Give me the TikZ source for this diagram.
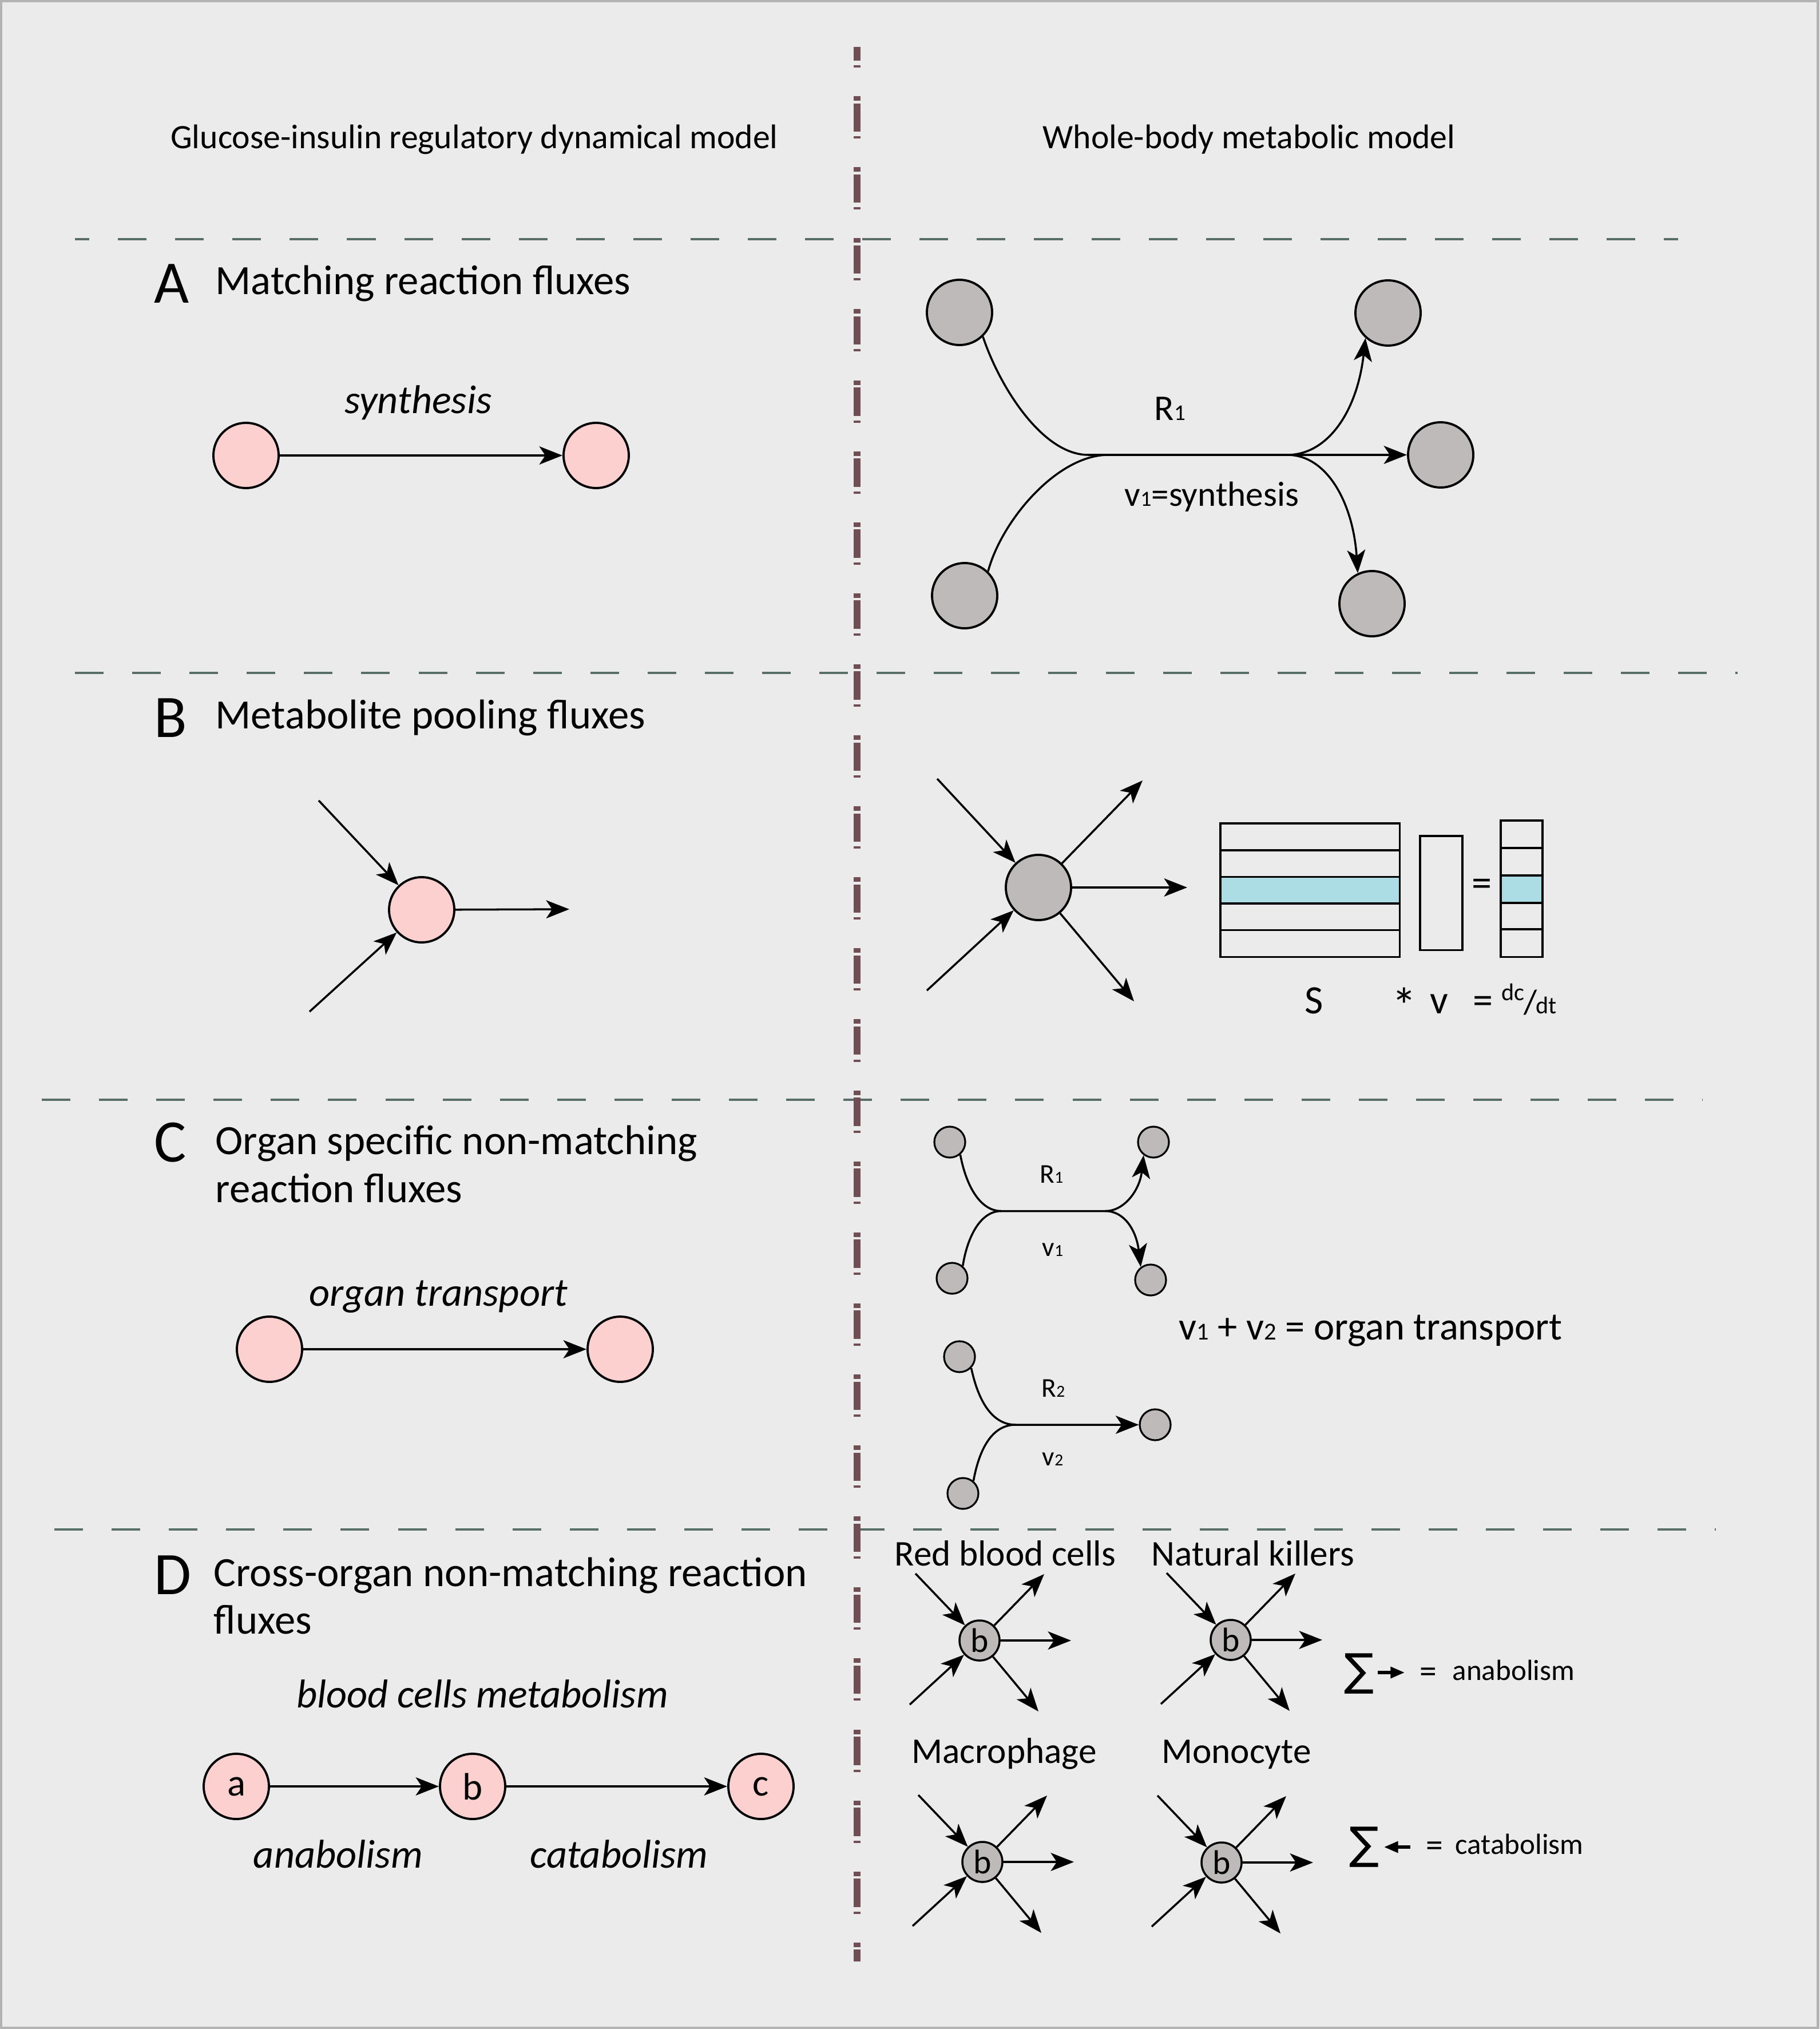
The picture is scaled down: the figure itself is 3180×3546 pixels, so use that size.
\documentclass[tikz,border=0pt]{standalone}
\usepackage{fontspec}
\setmainfont{Carlito}
\newfontfamily\sumfont{DejaVu Sans}
\usepackage{graphicx}
\usetikzlibrary{
  arrows.meta,
  calc,
}
\definecolor{bgcol}{RGB}{235,235,235}
\definecolor{framecol}{RGB}{179,179,179}
\definecolor{pinkfill}{RGB}{252,208,207}
\definecolor{greyfill}{RGB}{189,186,185}
\definecolor{rowcyan}{RGB}{172,221,228}
\definecolor{sepcol}{RGB}{90,110,104}
\definecolor{midcol}{RGB}{111,79,83}
\newcommand\fs[1]{\fontsize{#1}{#1}\selectfont}
\newcommand\lo[1]{\scalebox{0.62}{#1}}

\begin{document}
\begin{tikzpicture}[
  x=0.01cm, y=-0.01cm,
  met/.style={circle, draw, line width=1.1pt, fill=pinkfill, minimum size=1.14cm, inner sep=0pt, font=\fs{19pt}},
  gmet/.style={met, fill=greyfill},
  smet/.style={gmet, minimum size=0.54cm, line width=0.9pt},
  bmet/.style={gmet, minimum size=0.70cm, line width=1pt, font=\fs{17pt}},
  rxn/.style={line width=1pt},
  flux/.style={rxn, -{Stealth[length=11.5pt, width=9pt, inset=3pt]}},
  tiny/.style={line width=1.5pt, -{Triangle[length=7pt, width=5.5pt]}},
  divider/.style={sepcol, line width=1.15pt, dash pattern=on 14.23pt off 14.23pt},
  cell/.style={line width=1pt},
  head/.style={font=\fs{17pt}, anchor=base, inner sep=0pt},
  panel/.style={font=\fs{30pt}, anchor=base west, inner sep=0pt},
  title/.style={font=\fs{20.7pt}, anchor=base west, inner sep=0pt},
  flx/.style={font=\itshape\fs{20pt}, anchor=base, inner sep=0pt},
  lbl/.style={font=\fs{18pt}, anchor=base, inner sep=0pt},
  slbl/.style={font=\fs{13.5pt}, anchor=base, inner sep=0pt},
]
\useasboundingbox (0,0) rectangle (3180,3546);
\fill[framecol] (0,0) rectangle (3180,3546);
\fill[bgcol] (4,4) rectangle (3175,3542);

\node[head] (lhead) at (829,260) {Glucose-insulin regulatory dynamical model};
\node[head] (rhead) at (2183,260) {Whole-body metabolic model};

\draw[divider, dash phase=7.1pt] (131,418) -- (2933,418);
\draw[divider] (131,1176) -- (3037,1176);
\draw[divider] (73,1922) -- (2976,1922);
\draw[divider] (95,2673) -- (2999,2673);
\draw[midcol, line width=3.4pt,
  dash pattern=on 2.28pt off 1.28pt on 14.08pt off 2.28pt on 1.14pt off 14.23pt,
  dash phase=10.8pt] (1498,82) -- (1498,3428);

% A
\node[panel] (A) at (269,530) {A};
\node[title] (Atitle) at (376,515) {Matching reaction fluxes};
\node[met] (A1) at (430,796) {};
\node[met] (A2) at (1042,796) {};
\draw[flux] (A1) -- (A2);
\node[flx] (Asyn) at (731,722) {synthesis};

\node[gmet] (Atl) at (1677,546) {};
\node[gmet] (Abl) at (1686,1041) {};
\node[gmet] (Atr) at (2426,547) {};
\node[gmet] (Amr) at (2518,795) {};
\node[gmet] (Abr) at (2398,1055) {};
\coordinate (Aj1) at (1902,795);
\coordinate (Aj2) at (1937,795);
\coordinate (Aj3) at (2250,795);
\draw[rxn] (Atl.-46) .. controls (1747,676) and (1822,795) .. (Aj1) -- (Aj3);
\draw[rxn] (Abl.46) .. controls (1750,911) and (1847,795) .. (Aj2);
\draw[flux] (Aj3) .. controls (2320,795) and (2372,720) .. (Atr.-132);
\draw[flux] (Aj3) -- (Amr);
\draw[flux] (Aj3) .. controls (2320,795) and (2365,880) .. (Abr.115);
\node[lbl] (AR) at (2045,735) {R\lo{1}};
\node[lbl, font=\fs{17.4pt}] (Av) at (2118,884) {v\lo{1}=synthesis};

% B
\node[panel] (B) at (269,1288) {B};
\node[title] (Btitle) at (376,1273) {Metabolite pooling fluxes};
\node[met] (B1) at (737,1590) {};
\coordinate (Bin1) at (557,1399);
\coordinate (Bin2) at (541,1768);
\coordinate (Bout) at (995,1589);
\draw[flux] (Bin1) -- (B1);
\draw[flux] (Bin2) -- (B1);
\draw[flux] (B1) -- (Bout);

\node[gmet] (B2) at (1815,1551) {};
\coordinate (Bin3) at (1638,1361);
\coordinate (Bin4) at (1620,1731);
\coordinate (Bout1) at (1997,1364);
\coordinate (Bout2) at (2075,1551);
\coordinate (Bout3) at (1982,1750);
\draw[flux] (Bin3) -- (B2);
\draw[flux] (Bin4) -- (B2);
\draw[flux] (B2) -- (Bout1);
\draw[flux] (B2) -- (Bout2);
\draw[flux] (B2) -- (Bout3);

\fill[rowcyan] (2133,1532.5) rectangle (2446.5,1579);
\draw[cell] (2133,1439) rectangle (2446.5,1672.5);
\foreach \r in {1486,1532.5,1579,1625.5}
  \draw[cell] (2133,\r) -- (2446.5,\r);
\draw[cell] (2482,1461) rectangle (2556,1660.6);
\fill[rowcyan] (2623,1530) rectangle (2696,1578);
\draw[cell] (2623,1434) rectangle (2696,1672.5);
\foreach \r in {1482,1530,1578,1624}
  \draw[cell] (2623,\r) -- (2696,\r);
\node[font=\fs{20pt}, inner sep=0pt] (Beq) at (2590,1551) {=};
\node[lbl, font=\fs{20pt}] (BS) at (2297,1771) {S};
\node[lbl, font=\fs{25pt}] (Bstar) at (2454,1788) {*};
\node[lbl, font=\fs{20pt}] (Bv) at (2515,1771) {v};
\node[lbl, font=\fs{20pt}] (Beq2) at (2592,1771) {=};
\node[lbl, font=\fs{17pt}, anchor=base west] (Bdcdt) at (2624,1771)
  {\raisebox{6.5pt}{\fs{12pt}dc}\kern-0.5pt/\kern-0.5pt{\fs{12pt}dt}};

% C
\node[panel] (C) at (269,2030) {C};
\node[title] (Ctitle1) at (376,2017) {Organ specific non-matching};
\node[title] (Ctitle2) at (376,2101) {reaction fluxes};
\node[met] (C1) at (471,2358) {};
\node[met] (C2) at (1084,2358) {};
\draw[flux] (C1) -- (C2);
\node[flx] (Ctr) at (766,2282) {organ transport};

\node[smet] (C1tl) at (1660,1996) {};
\node[smet] (C1bl) at (1664,2234) {};
\node[smet] (C1tr) at (2016,1996) {};
\node[smet] (C1br) at (2011,2237) {};
\coordinate (C1j1) at (1750,2116.5);
\coordinate (C1j2) at (1932,2116.5);
\draw[rxn] (C1tl.-50) .. controls (1688,2070) and (1712,2116.5) .. (C1j1) -- (C1j2);
\draw[rxn] (C1bl.49) .. controls (1690,2165) and (1712,2116.5) .. (C1j1);
\draw[flux] (C1j2) .. controls (1965,2116.5) and (1992,2080) .. (C1tr.-127);
\draw[flux] (C1j2) .. controls (1965,2116.5) and (1986,2150) .. (C1br.127);
\node[slbl] (CR1) at (1838,2067) {R\lo{1}};
\node[slbl] (Cv1) at (1840,2195) {v\lo{1}};

\node[smet] (C2tl) at (1677,2371) {};
\node[smet] (C2bl) at (1683,2610) {};
\node[smet] (C2r) at (2019,2490) {};
\coordinate (C2j) at (1775,2490);
\draw[flux] (C2tl.-44) .. controls (1710,2450) and (1735,2490) .. (C2j) -- (C2r);
\draw[rxn] (C2bl.50) .. controls (1712,2530) and (1735,2490) .. (C2j);
\node[slbl] (CR2) at (1841,2441) {R\lo{2}};
\node[slbl] (Cv2) at (1840,2561) {v\lo{2}};
\node[lbl, font=\fs{19.5pt}, anchor=base west] (Csum) at (2060,2341)
  {v\lo{1} + v\lo{2} = organ transport};

% D
\node[panel] (D) at (269,2786) {D};
\node[title] (Dtitle1) at (373,2772) {Cross-organ non-matching reaction};
\node[title] (Dtitle2) at (373,2855) {fluxes};
\node[flx] (Dmet) at (843,2984) {blood cells metabolism};
\node[met] (Da) at (413,3122) {a};
\node[met] (Db) at (826,3122) {b};
\node[met] (Dc) at (1330,3122) {c};
\draw[flux] (Da) -- (Db);
\draw[flux] (Db) -- (Dc);
\node[flx] (Dana) at (591,3264) {anabolism};
\node[flx] (Dcat) at (1082,3264) {catabolism};

\foreach \nm/\x/\y/\lx/\ly/\txt in {
  rbc/1712/2867/1757/2736/Red blood cells,
  nk/2151/2866/2190/2736/Natural killers,
  mph/1717/3254/1755/3081/Macrophage,
  mono/2135/3255/2161/3081/Monocyte}
{
  \node[bmet] (\nm) at (\x,\y) {b};
  \node[lbl] (\nm-lbl) at (\lx,\ly) {\txt};
  \coordinate (\nm-i1) at ($(\nm)+(-112,-117)$);
  \coordinate (\nm-i2) at ($(\nm)+(-122,112)$);
  \coordinate (\nm-o1) at ($(\nm)+(113,-116)$);
  \coordinate (\nm-o2) at ($(\nm)+(160,0)$);
  \coordinate (\nm-o3) at ($(\nm)+(103,124)$);
  \draw[flux] (\nm-i1) -- (\nm);
  \draw[flux] (\nm-i2) -- (\nm);
  \draw[flux] (\nm) -- (\nm-o1);
  \draw[flux] (\nm) -- (\nm-o2);
  \draw[flux] (\nm) -- (\nm-o3);
}

\node[font=\sumfont\fs{22pt}, inner sep=0pt] (sig1) at (2376,2925) {∑};
\coordinate (sa1) at (2408,2923);
\coordinate (sa2) at (2455,2923);
\draw[tiny] (sa1) -- (sa2);
\node[font=\fs{17pt}, inner sep=0pt] (seq1) at (2496,2928) {=};
\node[font=\fs{14.5pt}, anchor=base west, inner sep=0pt] (sana) at (2538,2936) {anabolism};

\node[font=\sumfont\fs{22pt}, inner sep=0pt] (sig2) at (2385,3228) {∑};
\coordinate (sb1) at (2465,3228);
\coordinate (sb2) at (2419,3228);
\draw[tiny] (sb1) -- (sb2);
\node[font=\fs{17pt}, inner sep=0pt] (seq2) at (2507,3232) {=};
\node[font=\fs{14.5pt}, anchor=base west, inner sep=0pt] (scat) at (2543,3240) {catabolism};
\end{tikzpicture}
\end{document}
